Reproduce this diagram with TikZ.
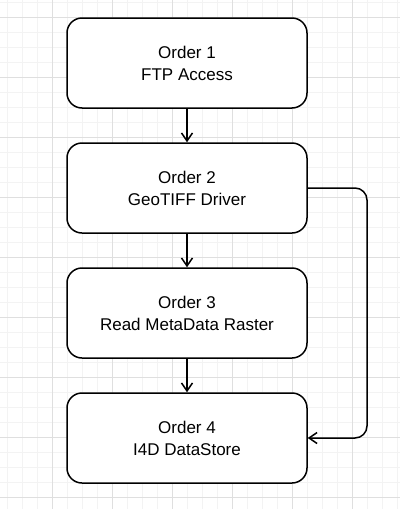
\documentclass[tikz,border=0pt]{standalone}
\usepackage{fontspec}
\setmainfont{Liberation Sans}
\usetikzlibrary{arrows.meta}
\definecolor{gridminor}{HTML}{F3F3F3}
\definecolor{gridmajor}{HTML}{DFDFDF}
\tikzset{
  orderbox/.style={draw=black, line width=1.5pt, rounded corners=15pt, fill=white,
    minimum width=240pt, minimum height=90pt, align=center,
    font=\fontsize{17}{22}\selectfont, inner sep=0pt},
  flow/.style={draw=black, line width=1.5pt, -{Straight Barb[length=8pt,width=11pt,line width=1.5pt]}},
}
\begin{document}
\begin{tikzpicture}[x=1pt,y=-1pt]
\useasboundingbox (0,0) rectangle (400,509);
\fill[white] (0,0) rectangle (400,509);
% grid
\foreach \i in {0,...,26} {
  \pgfmathsetmacro{\xx}{7+15*\i}
  \draw[gridminor, line width=1pt] (\xx,0) -- (\xx,509);
}
\foreach \i in {0,...,33} {
  \pgfmathsetmacro{\yy}{2+15*\i}
  \draw[gridminor, line width=1pt] (0,\yy) -- (400,\yy);
}
\foreach \xx in {52,112,...,352} {
  \draw[gridmajor, line width=1pt] (\xx,0) -- (\xx,509);
}
\foreach \yy in {17,77,...,497} {
  \draw[gridmajor, line width=1pt] (0,\yy) -- (400,\yy);
}
% boxes
\node[orderbox] (o1) at (187,63) {Order 1\\FTP Access};
\node[orderbox] (o2) at (187,188) {Order 2\\GeoTIFF Driver};
\node[orderbox] (o3) at (187,313) {Order 3\\Read MetaData Raster};
\node[orderbox] (o4) at (187,438) {Order 4\\I4D DataStore};
\coordinate (c1) at (367,188);
\coordinate (c2) at (367,438);
% connectors
\draw[flow] (o1) -- (o2);
\draw[flow] (o2) -- (o3);
\draw[flow] (o3) -- (o4);
\draw[flow, rounded corners=12pt] (o2.east) -- (c1) -- (c2) -- (o4.east);
\end{tikzpicture}
\end{document}
